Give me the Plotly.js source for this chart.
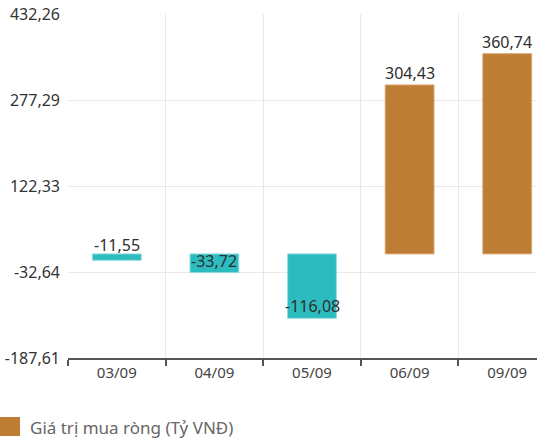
<!DOCTYPE html>
<html>
<head>
<meta charset="utf-8">
<script src="https://cdn.plot.ly/plotly-3.0.1.min.js"></script>
<style>
html,body{margin:0;padding:0;width:537px;height:442px;overflow:hidden;background:#fff;}
#chart{width:557px;height:442px;}
</style>
</head>
<body>
<div id="chart"></div>
<script>
const categories = ["03/09", "04/09", "05/09", "06/09", "09/09"];
const values = [-11.55, -33.72, -116.08, 304.43, 360.74];
const yTickVals = [-187.61, -32.64, 122.33, 277.29, 432.26];
const legendLabel = "Giá trị mua ròng (Tỷ VNĐ)";

const fmt = v => v.toFixed(2).replace('.', ',');
const colorFor = v => v < 0 ? '#2cbcc0' : '#bd7d35';

const trace = {
  type: 'bar',
  x: categories,
  y: values,
  marker: {color: values.map(colorFor), line: {color: values.map(v => v < 0 ? '#8fdcde' : '#d9a870'), width: 1}},
  showlegend: false,
  hoverinfo: 'none'
};

const labelAnns = values.map((v, i) => ({
  x: categories[i],
  y: (v < 0 && -v < 20) ? 0 : v,
  xref: 'x', yref: 'y',
  text: fmt(v),
  showarrow: false,
  yanchor: 'bottom',
  yshift: (v < 0 && -v < 20) ? -4 : -1,
  font: {family: 'Noto Sans, sans-serif', size: 16, color: '#2e2e2e'}
}));

const layout = {
  width: 557, height: 442,
  margin: {l: 68, r: 1, t: 14, b: 84},
  paper_bgcolor: '#fff', plot_bgcolor: '#fff',
  separators: ',.',
  bargap: 0.5,
  font: {family: 'Noto Sans, sans-serif', color: '#333'},
  xaxis: {
    type: 'category',
    tickson: 'boundaries',
    ticks: 'outside', ticklen: 6, tickcolor: '#555', tickwidth: 2,
    showgrid: true, gridcolor: '#e8e8e8', gridwidth: 1,
    showline: true, linecolor: '#555', linewidth: 2,
    tickfont: {size: 15, color: '#444'},
    zeroline: false
  },
  yaxis: {
    range: [yTickVals[0], yTickVals[yTickVals.length - 1]],
    tickmode: 'array', tickvals: yTickVals, ticktext: yTickVals.map(fmt),
    showgrid: true, gridcolor: '#e8e8e8', gridwidth: 1,
    zeroline: false, showline: false,
    tickfont: {size: 16, color: '#333'},
    ticks: '', ticklabelstandoff: 7
  },
  shapes: [{
    type: 'rect', xref: 'paper', yref: 'paper',
    xsizemode: 'pixel', ysizemode: 'pixel', xanchor: 0, yanchor: 0,
    x0: -68, x1: -48, y0: -59, y1: -78,
    fillcolor: '#bd7d35', line: {width: 0}
  }],
  annotations: labelAnns.concat([{
    xref: 'paper', yref: 'paper', x: 0, y: 0,
    xanchor: 'left', yanchor: 'middle',
    xshift: -40, yshift: -69,
    text: legendLabel, showarrow: false,
    font: {family: 'Noto Sans, sans-serif', size: 17, color: '#666'}
  }])
};

Plotly.newPlot('chart', [trace], layout, {displayModeBar: false, staticPlot: true});
</script>
</body>
</html>
